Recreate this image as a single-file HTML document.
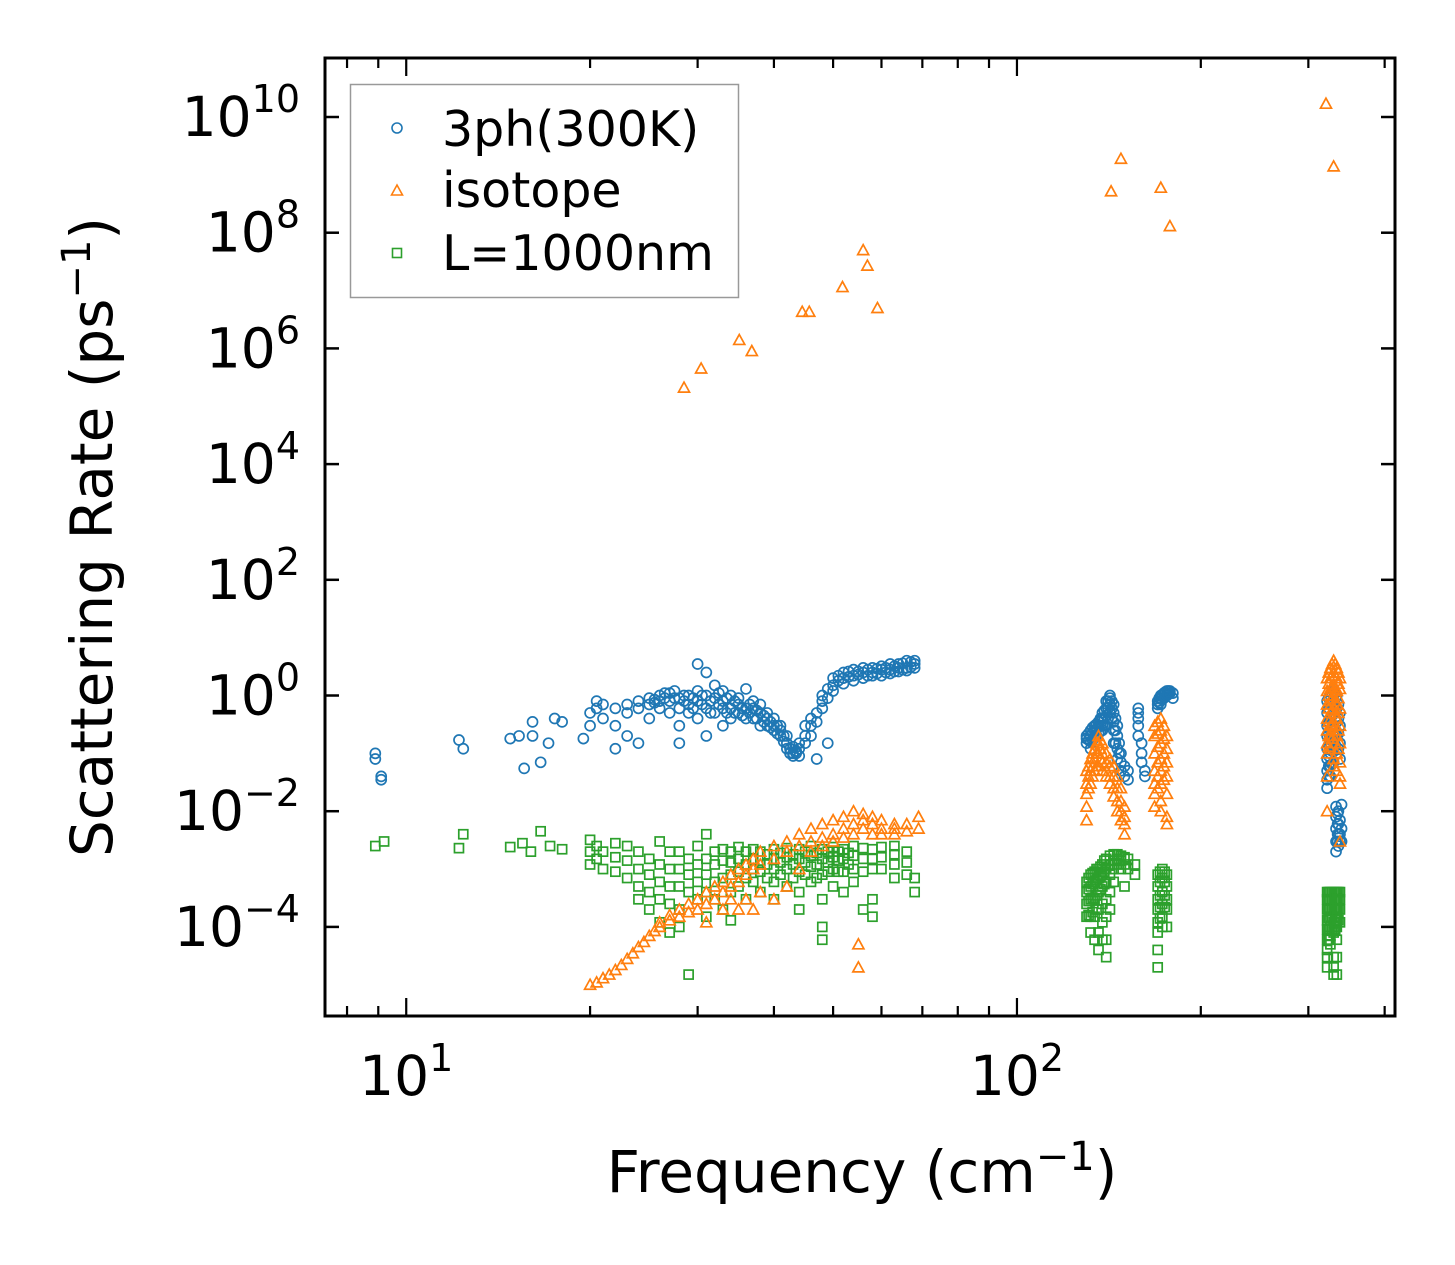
<!DOCTYPE html>
<html><head><meta charset="utf-8"><style>
html,body{margin:0;padding:0;background:#fff;}
svg{display:block;font-family:"DejaVu Sans","Liberation Sans",sans-serif;}
</style></head><body>
<svg id="chart" width="1455" height="1265" viewBox="0 0 1455 1265" xmlns="http://www.w3.org/2000/svg">
<rect width="1455" height="1265" fill="#fff"/>
<g id="marks"></g>
<g id="axes"></g>
<g>
<rect x="350.5" y="84.5" width="388" height="213" fill="#fff" fill-opacity="0.8" stroke="#999" stroke-width="1.5"/>
<g><circle cx="397" cy="128" r="5" fill="none" stroke="#1f77b4" stroke-width="1.6"/><text x="442" y="146" font-size="49">3ph(300K)</text></g>
<g><path d="M391.5,195 L397,185 L402.5,195 Z" fill="none" stroke="#ff7f0e" stroke-width="1.6"/><text x="442" y="207" font-size="49">isotope</text></g>
<g><rect x="392.5" y="248.5" width="9" height="9" fill="none" stroke="#2ca02c" stroke-width="1.6"/><text x="442" y="270" font-size="49">L=1000nm</text></g>
</g>
<text x="862" y="1192" font-size="58" text-anchor="middle">Frequency (cm<tspan font-size="40" dy="-22">−1</tspan><tspan dy="22">)</tspan></text>
<text transform="translate(112,537) rotate(-90)" font-size="58" text-anchor="middle">Scattering Rate (ps<tspan font-size="40" dy="-22">−1</tspan><tspan dy="22">)</tspan></text>
</svg>
<script>
const blueCols=[[8.9,[0.1,0.08]],[9.1,[0.04,0.035]],[12.2,[0.17]],[12.4,[0.12]],[14.8,[0.18]],[15.3,[0.2]],[15.6,[0.055]],[16.1,[0.35,0.2]],[16.6,[0.07]],[17.1,[0.15]],[17.5,[0.4]],[18,[0.35]],[19.5,[0.18]],[20,[0.3,0.5]],[20.5,[0.6,0.8]],[21,[0.7,0.4]],[22,[0.6,0.3,0.12]],[23,[0.7,0.2,0.5]],[24,[0.8,0.15,0.6]],[25,[0.9,0.4,0.7]],[25.5,[0.85,0.75]],[26,[1.0,0.6,0.8]],[26.5,[0.9,1.1]],[27,[1.1,0.5,0.8]],[27.5,[1.2,0.9]],[28,[0.9,0.3,0.15,0.6]],[28.5,[1.0,0.8]],[29,[1.0,0.7,0.5]],[29.5,[0.9,0.6]],[30,[3.5,0.8,0.4,1.2]],[30.5,[0.7,1.0]],[31,[2.5,0.6,0.2,1.0]],[31.5,[0.8,0.5]],[32,[1.5,0.5,0.9]],[32.5,[0.7,1.1]],[33,[1.2,0.8,0.3,0.6]],[33.5,[0.9,0.5]],[34,[1.0,0.6,0.4]],[34.5,[0.8,0.5]],[35,[0.9,0.5,0.7]],[35.5,[0.6,0.45]],[36,[1.3,0.6,0.4]],[36.5,[0.7,0.5]],[37,[0.8,0.4,0.6]],[37.5,[0.55,0.4]],[38,[0.7,0.5,0.3]],[38.5,[0.45,0.35]],[39,[0.5,0.3,0.4]],[39.5,[0.35,0.28]],[40,[0.4,0.25,0.3]],[40.5,[0.3,0.22]],[41,[0.3,0.2,0.25]],[41.5,[0.2,0.16]],[42,[0.15,0.12,0.2]],[42.5,[0.12,0.1]],[43,[0.1,0.09,0.13]],[43.5,[0.1,0.11]],[44,[0.12,0.15,0.09]],[45,[0.2,0.3,0.15]],[46,[0.4,0.3,0.2]],[47,[0.5,0.08,0.35]],[48,[0.8,1,0.6]],[49,[1.3,0.15,0.9]],[50,[2,1.5,1.2]],[51,[2.2,1.8]],[52,[2.5,2,1.6]],[53,[2.6,2.1]],[54,[2.8,2.2,1.8]],[55,[2.6,2.3]],[56,[2.5,3,2]],[57,[2.8,2.2]],[58,[3,2.5,2.2]],[59,[2.9,2.4]],[60,[3.2,2.2,2.8]],[61,[3,2.5]],[62,[3.5,2.8,2.4]],[63,[3.2,2.6]],[64,[3.5,3,2.6]],[65,[3.6,2.8]],[66,[4,3,2.7]],[67,[3.8,3.1]],[68,[4,3.5,3]],
[130,[0.2,0.18,0.15]],[131,[0.22,0.17]],[132,[0.25,0.2,0.16,0.12]],[133,[0.28,0.22,0.17]],[134,[0.3,0.25,0.2]],[135,[0.32,0.26,0.2]],[136,[0.35,0.3,0.22]],[137,[0.4,0.3,0.24]],[138,[0.4,0.5,0.3,0.25]],[139,[0.55,0.4,0.3]],[140,[0.6,0.8,0.45,0.3]],[141,[0.8,0.6,0.4]],[142,[0.9,1.0,0.7,0.5]],[143,[0.8,0.6,0.4]],[144,[0.7,0.5,0.35,0.25,0.15]],[145,[0.4,0.25,0.15]],[146,[0.3,0.2,0.12,0.08]],[147,[0.15,0.1]],[148,[0.1,0.07,0.05]],[150,[0.06,0.04]],[152,[0.05,0.035]],[158,[0.6,0.5,0.4,0.3,0.2]],[160,[0.15,0.1,0.07]],[162,[0.05,0.04]],[170,[0.8,0.7,0.6]],[171,[0.9,0.75]],[172,[1.0,0.9,0.7]],[173,[1.0,0.85]],[174,[1.1,0.9]],[175,[1.15,0.95]],[176,[1.2,1.0]],[177,[1.2,1.05]],[178,[1.2,1.1]],[180,[1.1,0.9]],
[322,[0.8,0.5,0.3,0.2,0.12,0.08,0.05,0.035,0.025]],[324,[0.9,0.6,0.35,0.22,0.14,0.09,0.06,0.04]],[326,[1,0.7,0.4,0.25,0.15,0.1,0.06,0.04]],[328,[1.1,0.75,0.45,0.28,0.17,0.11,0.065]],[330,[1.2,0.8,0.5,0.3,0.2,0.12,0.07]],[332,[1.1,0.7,0.4,0.25,0.14]],[334,[1,0.6,0.35,0.2,0.1]],[336,[0.7,0.4,0.22,0.12]],[338,[0.5,0.3,0.15,0.08]],[333,[0.012,0.008,0.005,0.003,0.002]],[335,[0.009,0.006,0.004,0.003]],[336,[0.01,0.006,0.004,0.0025]],[338,[0.007,0.004,0.003]],[340,[0.013,0.005,0.003]]];
const orangeCols=[[28.5,[2.1e5]],[30.4,[4.5e5]],[35.1,[1.4e6]],[36.8,[9e5]],[44.5,[4.3e6]],[45.7,[4.3e6]],[51.8,[1.15e7]],[56.0,[5e7]],[56.9,[2.7e7]],[59.1,[5e6]],[142.6,[5.2e8]],[148,[1.9e9]],[172,[6e8]],[178,[1.3e8]],[320.6,[1.7e10]],[330,[1.4e9]],
[20,[1e-5]],[20.5,[1.1e-5]],[21,[1.3e-5]],[21.5,[1.5e-5]],[22,[1.8e-5]],[22.5,[2.2e-5]],[23,[2.8e-5]],[23.5,[3.5e-5]],[24,[4.5e-5]],[24.5,[5.5e-5]],[25,[7e-5]],[25.5,[8.5e-5]],[26,[1e-4,1.2e-4]],[27,[1.3e-4,1.6e-4]],[28,[1.5e-4,2e-4]],[29,[1.8e-4,2.5e-4]],[30,[2e-4,3e-4]],[31,[2.5e-4,4e-4,1.2e-4]],[32,[3e-4,5e-4]],[33,[4e-4,6e-4,2e-4]],[34,[5e-4,8e-4,3e-4]],[35,[6e-4,1e-3,2e-4]],[36,[8e-4,1.2e-3,3e-4]],[37,[1e-3,1.5e-3,2e-4]],[38,[1.2e-3,2e-3,4e-4]],[40,[1.5e-3,2.5e-3,3e-4]],[42,[2e-3,3e-3,5e-4]],[44,[2.5e-3,4e-3,1e-3]],[46,[3e-3,5e-3,2e-3]],[48,[3.5e-3,6e-3,2.5e-3]],[50,[4e-3,7e-3,3e-3]],[52,[5e-3,8e-3,3.5e-3]],[54,[6e-3,1e-2,4e-3]],[55,[5e-5,2e-5]],[56,[7e-3,9e-3,5e-3]],[58,[6e-3,8e-3,4e-3]],[60,[5e-3,7e-3,4e-3]],[63,[5e-3,6e-3,4e-3]],[66,[4.5e-3,6e-3]],[69,[5e-3,8e-3]],
[130,[0.05,0.03,0.02,0.012,0.007]],[131,[0.06,0.04,0.025]],[132,[0.08,0.05,0.03]],[133,[0.1,0.06,0.04]],[134,[0.12,0.08,0.05]],[135,[0.15,0.1,0.06]],[136,[0.2,0.15,0.1,0.06]],[137,[0.17,0.12,0.08]],[138,[0.15,0.1,0.07,0.05]],[140,[0.1,0.07,0.05,0.04]],[142,[0.08,0.06,0.04,0.03]],[144,[0.06,0.04,0.025,0.018]],[146,[0.04,0.025,0.015,0.01]],[148,[0.025,0.015,0.01,0.007]],[150,[0.012,0.008,0.006,0.004]],[168,[0.3,0.2,0.1,0.05,0.03,0.02,0.012]],[170,[0.35,0.22,0.13,0.07,0.04,0.025]],[172,[0.4,0.25,0.15,0.08,0.05,0.03,0.015,0.01]],[174,[0.3,0.18,0.1,0.06,0.035]],[176,[0.2,0.12,0.07,0.04,0.02,0.008,0.006]],
[322,[2,1.2,0.7,0.4,0.25,0.15,0.1,0.04,0.01]],[324,[2.5,1.6,1,0.6,0.35,0.2,0.13]],[326,[3,2,1.3,0.8,0.5,0.3,0.2,0.12]],[328,[3.5,2.2,1.4,0.9,0.55,0.32,0.18]],[330,[4,2.5,1.5,1,0.6,0.35,0.2,0.08,0.06]],[332,[3.5,2.2,1.4,0.8,0.5,0.3,0.15]],[334,[3,2,1.2,0.7,0.4,0.2,0.1,0.05]],[336,[2.5,1.6,0.9,0.5,0.25,0.12]],[338,[2,1.3,0.6,0.3,0.15,0.07,0.04,0.03,0.003]]];
const greenCols=[[8.9,[2.5e-3]],[9.2,[3e-3]],[12.2,[2.3e-3]],[12.4,[4e-3]],[14.8,[2.4e-3]],[15.5,[2.8e-3]],[16,[2e-3]],[16.6,[4.5e-3]],[17.2,[2.5e-3]],[18,[2.2e-3]],[20,[3.2e-3,2e-3,1.2e-3]],[20.5,[2.5e-3,1.5e-3]],[21,[2e-3,1e-3]],[22,[2.8e-3,1.6e-3,9e-4]],[23,[2.5e-3,1.4e-3,7e-4]],[24,[2e-3,1e-3,5e-4,3e-4]],[25,[1.5e-3,8e-4,4e-4,2e-4]],[26,[3e-3,1.2e-3,6e-4,3e-4,1.2e-4]],[27,[2e-3,1e-3,5e-4,2.5e-4,8e-5]],[28,[2e-3,1e-3,5e-4,2e-4,1e-4]],[29,[1.5e-3,8e-4,4e-4,1.5e-5]],[30,[2.5e-3,1.2e-3,6e-4,3e-4]],[31,[4e-3,1.5e-3,8e-4,4e-4,1.5e-4]],[32,[2e-3,1.2e-3,6e-4,3e-4]],[33,[2.2e-3,1.4e-3,7e-4,2e-4]],[34,[2e-3,1.3e-3,8e-4,4e-4,1.3e-4]],[35,[2.4e-3,1.5e-3,9e-4,5e-4]],[36,[2e-3,1.2e-3,7e-4,3e-4]],[37,[2.2e-3,1.5e-3,1e-3,6e-4]],[38,[2e-3,1.4e-3,9e-4,4e-4]],[39,[1.8e-3,1.2e-3,7e-4]],[40,[2.2e-3,1.5e-3,1e-3,6e-4,3e-4]],[41,[1.9e-3,1.3e-3,8e-4]],[42,[2.3e-3,1.6e-3,1e-3,5e-4]],[43,[1.8e-3,1.2e-3,7e-4]],[44,[2.2e-3,1.5e-3,9e-4,4e-4,2e-4]],[45,[2e-3,1.3e-3,8e-4]],[46,[2.5e-3,1.7e-3,1.1e-3,6e-4]],[47,[1.9e-3,1.2e-3,7e-4]],[48,[2.2e-3,1.5e-3,8e-4,3e-4,1e-4,6e-5]],[49,[2e-3,1.3e-3,9e-4]],[50,[2.4e-3,1.6e-3,1e-3,5e-4]],[51,[2e-3,1.4e-3,9e-4]],[52,[2.2e-3,1.5e-3,9e-4,4e-4]],[53,[1.9e-3,1.2e-3]],[54,[2.5e-3,1.7e-3,1e-3,6e-4]],[56,[2.3e-3,1.5e-3,9e-4,2e-4]],[58,[2.2e-3,1.5e-3,1e-3,3e-4,1.5e-4]],[60,[2.4e-3,1.6e-3,1e-3]],[63,[2.5e-3,1.8e-3,1.2e-3,7e-4]],[66,[2e-3,1.3e-3,8e-4]],[68,[7e-4,4e-4]],
[130,[6e-4,4e-4,2.5e-4,1.5e-4]],[131,[7e-4,4.5e-4,2.8e-4,1.6e-4]],[132,[8e-4,5e-4,3e-4,1.5e-4,8e-5]],[133,[8.5e-4,5.5e-4,3.2e-4,1.8e-4]],[134,[9e-4,6e-4,3e-4,1.5e-4,6e-5]],[135,[1e-3,6.5e-4,3.5e-4,2e-4]],[136,[1e-3,7e-4,4e-4,2e-4,8e-5,4e-5]],[137,[1.1e-3,7.5e-4,4.5e-4]],[138,[1.2e-3,8e-4,5e-4,2.5e-4,1.2e-4,6e-5]],[139,[1.4e-3,9e-4,5.5e-4]],[140,[1.5e-3,1e-3,6e-4,3e-4,1.5e-4,6e-5,3e-5]],[142,[1.7e-3,1.2e-3,8e-4,4e-4,2e-4]],[144,[1.8e-3,1.4e-3,1e-3,6e-4]],[146,[1.8e-3,1.5e-3,1.2e-3]],[148,[1.7e-3,1.4e-3,1e-3]],[150,[1.6e-3,1.2e-3,5e-4]],[152,[1.5e-3,1e-3]],[156,[1.2e-3,8e-4]],
[170,[8e-4,5e-4,3e-4,2e-4,1.2e-4,8e-5,4e-5,2e-5]],[171.5,[9e-4,6e-4,3.5e-4,2.2e-4,1.4e-4]],[173,[1e-3,7e-4,4e-4,2.5e-4,1.5e-4,1e-4]],[174.5,[9e-4,6e-4,3.5e-4,2.2e-4]],[176,[8e-4,5e-4,3e-4,2e-4,1e-4]],
[322,[4e-4,3e-4,2e-4,1.3e-4,9e-5,6e-5,4e-5,3e-5,2e-5]],[324,[4e-4,3e-4,2e-4,1.4e-4,9e-5,6e-5]],[326,[4e-4,3e-4,2e-4,1.5e-4,1e-4,7e-5,5e-5]],[328,[4e-4,3e-4,2e-4,1.4e-4,9e-5]],[330,[4e-4,3e-4,2e-4,1.2e-4,8e-5,3e-5,2e-5,1.5e-5]],[332,[4e-4,3e-4,2e-4,1.3e-4,9e-5]],[334,[4e-4,3e-4,2e-4,1.5e-4,1e-4,6e-5,3e-5,1.5e-5]],[336,[4e-4,3e-4,2e-4,1.3e-4]],[338,[4e-4,3e-4,2e-4,1.2e-4]]];
const yTickExps=[-4,-2,0,2,4,6,8,10];
const xTickExps=[1,2];

const NS="http://www.w3.org/2000/svg";
const L=325,R=1395,T=58,B=1016;
const xLogMin=0.867,xLogMax=2.619,yLogMin=-5.54,yLogMax=11.02;
function sx(v){return L+(Math.log10(v)-xLogMin)/(xLogMax-xLogMin)*(R-L);}
function sy(v){return B-(Math.log10(v)-yLogMin)/(yLogMax-yLogMin)*(B-T);}
function mk(tag,attrs,parent){const e=document.createElementNS(NS,tag);for(const k in attrs)e.setAttribute(k,attrs[k]);parent.appendChild(e);return e;}
const marks=document.getElementById('marks');
function draw(cols,color,shape,name){
  const g=mk('g',{fill:'none',stroke:color,'stroke-width':1.7},marks);
  
  
  cols.forEach(([x,ys])=>ys.forEach(y=>{
    const px=sx(x),py=sy(y);let e;
    if(shape==='c')e=mk('circle',{cx:px,cy:py,r:5},g);
    else if(shape==='t')e=mk('path',{d:`M${px-5.5},${py+4.5} L${px},${py-5.5} L${px+5.5},${py+4.5} Z`},g);
    else e=mk('rect',{x:px-4.5,y:py-4.5,width:9,height:9},g);
    
    
  }));
}
draw(blueCols,'#1f77b4','c','3ph');
draw(greenCols,'#2ca02c','s','boundary');
draw(orangeCols,'#ff7f0e','t','isotope');

const ax=document.getElementById('axes');
const frame=mk('rect',{x:L,y:T,width:R-L,height:B-T,fill:'none',stroke:'#000','stroke-width':3},ax);


yTickExps.forEach(e=>{
  const py=sy(Math.pow(10,e));
  mk('line',{x1:L,x2:L+14,y1:py,y2:py,stroke:'#000','stroke-width':2.5},ax);
  mk('line',{x1:R,x2:R-14,y1:py,y2:py,stroke:'#000','stroke-width':2.5},ax);
  const t=mk('text',{x:L-25,y:py+19,'font-size':55,'text-anchor':'end'},ax);
  
  
  const neg=e<0?'−':'';const ex=Math.abs(e);
  t.innerHTML=`10<tspan font-size="38" dy="-24">${neg}${ex}</tspan>`;
});
for(let d=0;d<=2;d++){for(let m=1;m<=9;m++){
  const v=m*Math.pow(10,d);const lv=Math.log10(v);
  if(lv<xLogMin||lv>xLogMax)continue;
  const px=sx(v);const len=m===1?18:10;
  mk('line',{x1:px,x2:px,y1:B,y2:B-len,stroke:'#000','stroke-width':2.2},ax);
  mk('line',{x1:px,x2:px,y1:T,y2:T+len,stroke:'#000','stroke-width':2.2},ax);
}}
xTickExps.forEach(e=>{
  const px=sx(Math.pow(10,e));
  const t=mk('text',{x:px,y:1095,'font-size':55,'text-anchor':'middle'},ax);
  
  
  t.innerHTML=`10<tspan font-size="38" dy="-24">${e}</tspan>`;
});
</script>
</body></html>
